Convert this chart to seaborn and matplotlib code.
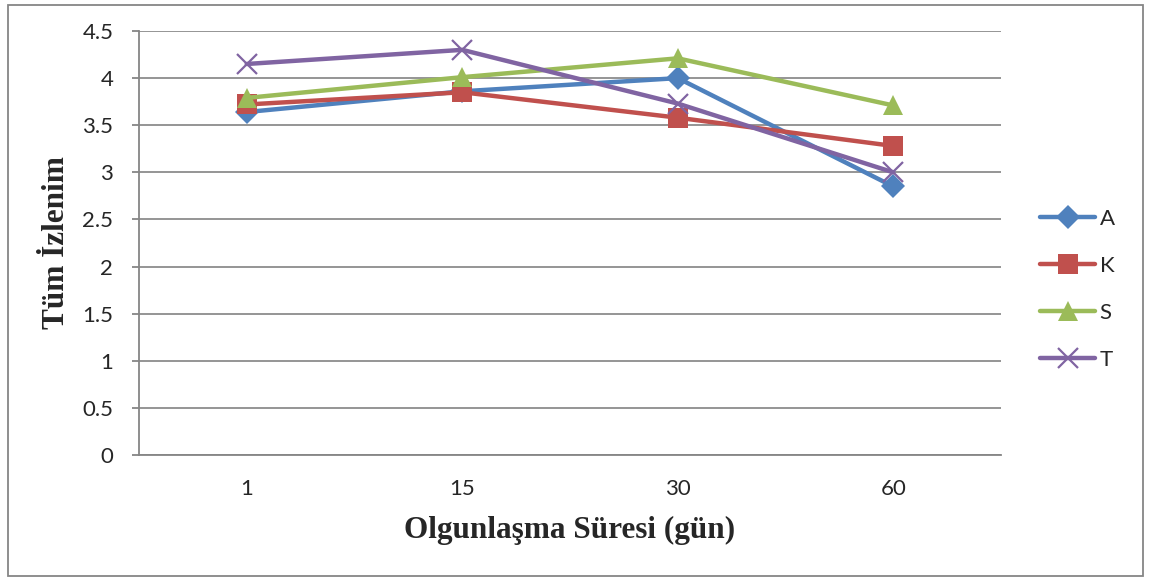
import matplotlib
matplotlib.use("Agg")
import matplotlib.pyplot as plt
import seaborn as sns
import pandas as pd
from matplotlib.patches import Rectangle

categories = ["1", "15", "30", "60"]
series_names = ["A", "K", "S", "T"]
A = [3.64, 3.86, 4.00, 2.85]
K = [3.72, 3.85, 3.58, 3.28]
S = [3.79, 4.01, 4.21, 3.71]
T = [4.15, 4.30, 3.73, 3.00]
yticks = [0, 0.5, 1, 1.5, 2, 2.5, 3, 3.5, 4, 4.5]
ytick_labels = ["0", "0.5", "1", "1.5", "2", "2.5", "3", "3.5", "4", "4.5"]

colors = {"A": "#4F81BD", "K": "#C0504D", "S": "#9BBB59", "T": "#8064A2"}
markers = {"A": "D", "K": "s", "S": "^", "T": "x"}
msizes = {"A": 12.5, "K": 14, "S": 14, "T": 14}

sns.set_theme(style="white")
plt.rcParams["font.family"] = ["Lato", "DejaVu Sans"]

fig = plt.figure(figsize=(11.5, 5.81), dpi=100)
ax = fig.add_axes([139/1150, 1-455/581, (1001-139)/1150, (455-31)/581])

values = {"A": A, "K": K, "S": S, "T": T}
for name in series_names:
    df = pd.DataFrame({"x": list(range(len(categories))), "y": values[name]})
    mk = markers[name]
    kw = dict(marker=mk, markersize=msizes[name], color=colors[name], linewidth=3.2)
    if mk == "x":
        kw.update(markeredgewidth=1.6, markeredgecolor=colors[name])
    else:
        kw.update(markeredgewidth=0, markerfacecolor=colors[name])
    sns.lineplot(data=df, x="x", y="y", ax=ax, label=name, **kw)

ax.set_xlim(-0.5, len(categories) - 0.5)
ax.set_ylim(0, 4.5)
ax.set_yticks(yticks)
ax.set_yticklabels(ytick_labels, fontsize=16)
ax.set_xticks(range(len(categories)))
ax.set_xticklabels(categories, fontsize=16)
ax.set_xticks([i - 0.5 for i in range(len(categories) + 1)], minor=True)
ax.tick_params(axis="x", which="major", length=0, pad=17)
ax.tick_params(axis="x", which="minor", length=5, width=1.3, color="#868686", direction="out")
ax.tick_params(axis="y", which="major", length=5, width=1.3, color="#868686", direction="out", left=True, pad=13.5)
ax.grid(axis="y", color="#8C8C8C", linewidth=1.3)
ax.grid(axis="x", visible=False)
for s in ["top", "right"]:
    ax.spines[s].set_visible(False)
for s in ["left", "bottom"]:
    ax.spines[s].set_color("#868686")
    ax.spines[s].set_linewidth(1.3)
ax.set_axisbelow(True)

ax.set_xlabel("Olgunlaşma Süresi (gün)", fontsize=22.5, fontweight="bold",
              family=["Liberation Serif", "DejaVu Serif"], va="center", ha="center")
ax.set_ylabel("Tüm İzlenim", fontsize=22.5, fontweight="bold",
              family=["Liberation Serif", "DejaVu Serif"], va="center", ha="center")
ax.xaxis.set_label_coords((570-139)/862, (455-530)/424)
ax.yaxis.set_label_coords((57-139)/862, (455-243)/424)

handles, labels = ax.get_legend_handles_labels()
leg = ax.legend(handles, labels, loc="center left", bbox_to_anchor=(1.045, 0.391),
                frameon=False, fontsize=16, handlelength=2.5, labelspacing=1.22,
                handletextpad=0.2, borderaxespad=0, borderpad=0)

fig.add_artist(Rectangle((8/1150, 5/581), (1143-8)/1150, (576-5)/581,
                         transform=fig.transFigure, fill=False,
                         edgecolor="#868686", linewidth=1.3))

fig.savefig("out.png", dpi=100)
